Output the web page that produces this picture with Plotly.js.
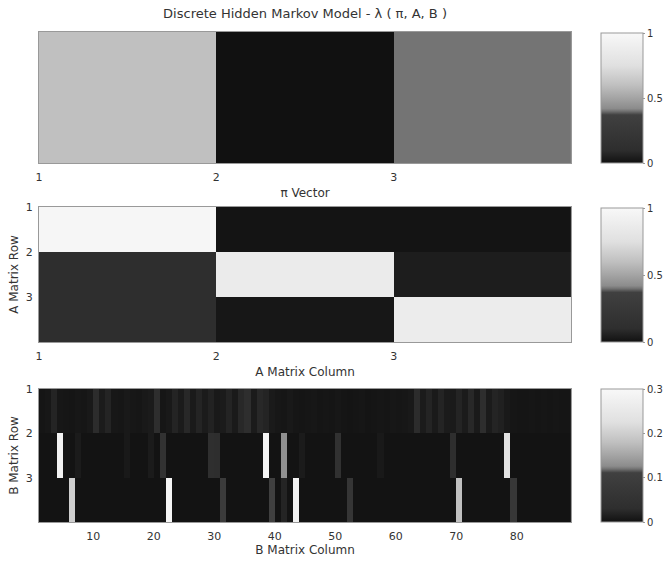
<!DOCTYPE html>
<html>
<head>
<meta charset="utf-8">
<script src="https://cdn.plot.ly/plotly-3.0.1.min.js"></script>
<style>html,body{margin:0;padding:0;background:#fff;overflow:hidden;width:663px;height:561px;}#chart{width:663px;height:561px;}</style>
</head>
<body>
<div id="chart"></div>
<script>
// ---- data ----
const piStates = [1, 2, 3];
const piValues = [0.6, 0.0, 0.4];

const aRows = [1, 2, 3];
const aCols = [1, 2, 3];
const aRow1 = [0.98, 0.01, 0.01];
const aRow2 = [0.10, 0.86, 0.04];
const aRow3 = [0.10, 0.02, 0.88];

const bRow1 = [0.004,0.006,0.02,0.006,0.005,0.004,0.006,0.005,0.008,0.028,
               0.01,0.02,0.006,0.005,0.008,0.006,0.005,0.008,0.01,0.03,
               0.005,0.008,0.02,0.01,0.024,0.009,0.02,0.01,0.018,0.008,
               0.01,0.02,0.009,0.024,0.03,0.01,0.024,0.02,0.009,0.006,
               0.005,0.008,0.005,0.004,0.005,0.006,0.004,0.005,0.004,0.006,
               0.004,0.003,0.004,0.005,0.003,0.004,0.005,0.004,0.006,0.005,
               0.006,0.008,0.028,0.01,0.02,0.009,0.02,0.01,0.009,0.02,
               0.01,0.024,0.009,0.03,0.01,0.02,0.015,0.008,0.005,0.004,
               0.004,0.005,0.004,0.005,0.004,0.005,0.004,0.004];
const bRow2 = [0.002,0.002,0.002,0.28,0.002,0.002,0.01,0.002,0.002,0.002,
               0.002,0.002,0.002,0.002,0.008,0.002,0.002,0.002,0.01,0.002,
               0.05,0.002,0.002,0.002,0.002,0.002,0.002,0.002,0.035,0.03,
               0.002,0.002,0.002,0.002,0.002,0.002,0.002,0.29,0.002,0.002,
               0.13,0.002,0.002,0.01,0.002,0.002,0.002,0.002,0.002,0.045,
               0.002,0.002,0.002,0.002,0.002,0.002,0.008,0.002,0.002,0.002,
               0.002,0.002,0.002,0.002,0.002,0.002,0.002,0.002,0.03,0.002,
               0.002,0.002,0.002,0.002,0.002,0.002,0.002,0.23,0.002,0.002,
               0.002,0.002,0.002,0.002,0.002,0.002,0.002,0.002];
const bRow3 = [0.002,0.002,0.002,0.002,0.002,0.2,0.002,0.002,0.002,0.002,
               0.002,0.002,0.002,0.002,0.002,0.002,0.002,0.002,0.002,0.002,
               0.002,0.29,0.002,0.002,0.002,0.002,0.002,0.002,0.002,0.002,
               0.09,0.002,0.002,0.002,0.002,0.002,0.002,0.002,0.11,0.002,
               0.02,0.002,0.28,0.002,0.002,0.002,0.002,0.002,0.002,0.002,
               0.002,0.06,0.002,0.002,0.002,0.002,0.002,0.002,0.002,0.002,
               0.002,0.002,0.002,0.002,0.002,0.002,0.002,0.002,0.002,0.18,
               0.002,0.002,0.002,0.002,0.002,0.002,0.002,0.002,0.07,0.002,
               0.002,0.002,0.002,0.002,0.002,0.002,0.002,0.002];
const bTicks = [10, 20, 30, 40, 50, 60, 70, 80];

// ---- helpers ----
const edges = n => Array.from({length: n + 1}, (_, i) => i + 1);
const W = 663, H = 561;
const FAM = 'DejaVu Sans, Liberation Sans, Arial, sans-serif';
const TICKF = {family: FAM, size: 11, color: '#333'};
const CBF = {family: FAM, size: 10, color: '#333'};
const AXF = {family: FAM, size: 12, color: '#333'};
const TITF = {family: FAM, size: 13, color: '#333'};
const scale = [[0,'#111111'],[0.1,'#2e2e2e'],[0.37,'#404040'],[0.4,'#747474'],[0.42,'#8c8c8c'],
               [0.5,'#a4a4a4'],[0.6,'#c0c0c0'],[0.75,'#e0e0e0'],[1,'#f8f8f8']];
const xDom = [39 / W, 572 / W];
const yDom = (t, b) => [1 - b / H, 1 - t / H];
function cbar(t, b, vals) {
  return {x: 601 / W, xanchor: 'left', xref: 'paper', y: 1 - t / H, yanchor: 'top', yref: 'paper',
          len: (b - t) / H, lenmode: 'fraction', thickness: 42, thicknessmode: 'pixels',
          xpad: 0, ypad: 0, outlinewidth: 1, outlinecolor: '#999',
          ticks: 'outside', ticklen: 2, tickcolor: '#999', tickvals: vals, tickfont: CBF};
}
const frame = {showline: true, mirror: true, linecolor: '#999', linewidth: 1, showgrid: false,
               zeroline: false, ticks: '', tickfont: TICKF, fixedrange: true};

const traces = [
  {type: 'heatmap', z: [piValues], x: edges(piStates.length), y: [0, 1],
   xaxis: 'x', yaxis: 'y', zmin: 0, zmax: 1, colorscale: scale,
   colorbar: cbar(33, 163, [0, 0.5, 1]), hoverinfo: 'skip'},
  {type: 'heatmap', z: [aRow1, aRow2, aRow3], x: edges(aCols.length), y: edges(aRows.length),
   xaxis: 'x2', yaxis: 'y2', zmin: 0, zmax: 1, colorscale: scale,
   colorbar: cbar(208, 342, [0, 0.5, 1]), hoverinfo: 'skip'},
  {type: 'heatmap', z: [bRow1, bRow2, bRow3], x: edges(bRow1.length), y: edges(3),
   xaxis: 'x3', yaxis: 'y3', zmin: 0, zmax: 0.3, colorscale: scale,
   colorbar: cbar(389, 522, [0, 0.1, 0.2, 0.3]), hoverinfo: 'skip'}
];

const layout = {
  width: W, height: H, margin: {l: 0, r: 0, t: 0, b: 0},
  paper_bgcolor: '#fff', plot_bgcolor: '#fff', font: TICKF, showlegend: false,
  title: {text: 'Discrete Hidden Markov Model - λ ( π, A, B )', font: TITF,
          x: 305.5 / W, xanchor: 'center', xref: 'paper', y: 1 - 13 / H, yanchor: 'middle', yref: 'paper'},
  xaxis: Object.assign({}, frame, {domain: xDom, anchor: 'y', range: [1, 4], tickvals: piStates,
          ticklabelstandoff: 4, title: {text: 'π Vector', font: AXF, standoff: 5}}),
  yaxis: Object.assign({}, frame, {domain: yDom(32, 163), anchor: 'x', range: [0, 1], showticklabels: false}),
  xaxis2: Object.assign({}, frame, {domain: xDom, anchor: 'y2', range: [1, 4], tickvals: aCols,
          ticklabelstandoff: 4, title: {text: 'A Matrix Column', font: AXF, standoff: 5}}),
  yaxis2: Object.assign({}, frame, {domain: yDom(207, 342), anchor: 'x2', range: [4, 1], tickvals: aRows,
          ticklabelstandoff: 3, title: {text: 'A Matrix Row', font: AXF, standoff: 4}}),
  xaxis3: Object.assign({}, frame, {domain: xDom, anchor: 'y3', range: [1, bRow1.length + 1], tickvals: bTicks,
          ticklabelstandoff: 4, title: {text: 'B Matrix Column', font: AXF, standoff: 3}}),
  yaxis3: Object.assign({}, frame, {domain: yDom(389, 522), anchor: 'x3', range: [4, 1], tickvals: [1, 2, 3],
          ticklabelstandoff: 3, title: {text: 'B Matrix Row', font: AXF, standoff: 4}})
};

Plotly.newPlot('chart', traces, layout, {staticPlot: true, displayModeBar: false});
</script>
</body>
</html>
